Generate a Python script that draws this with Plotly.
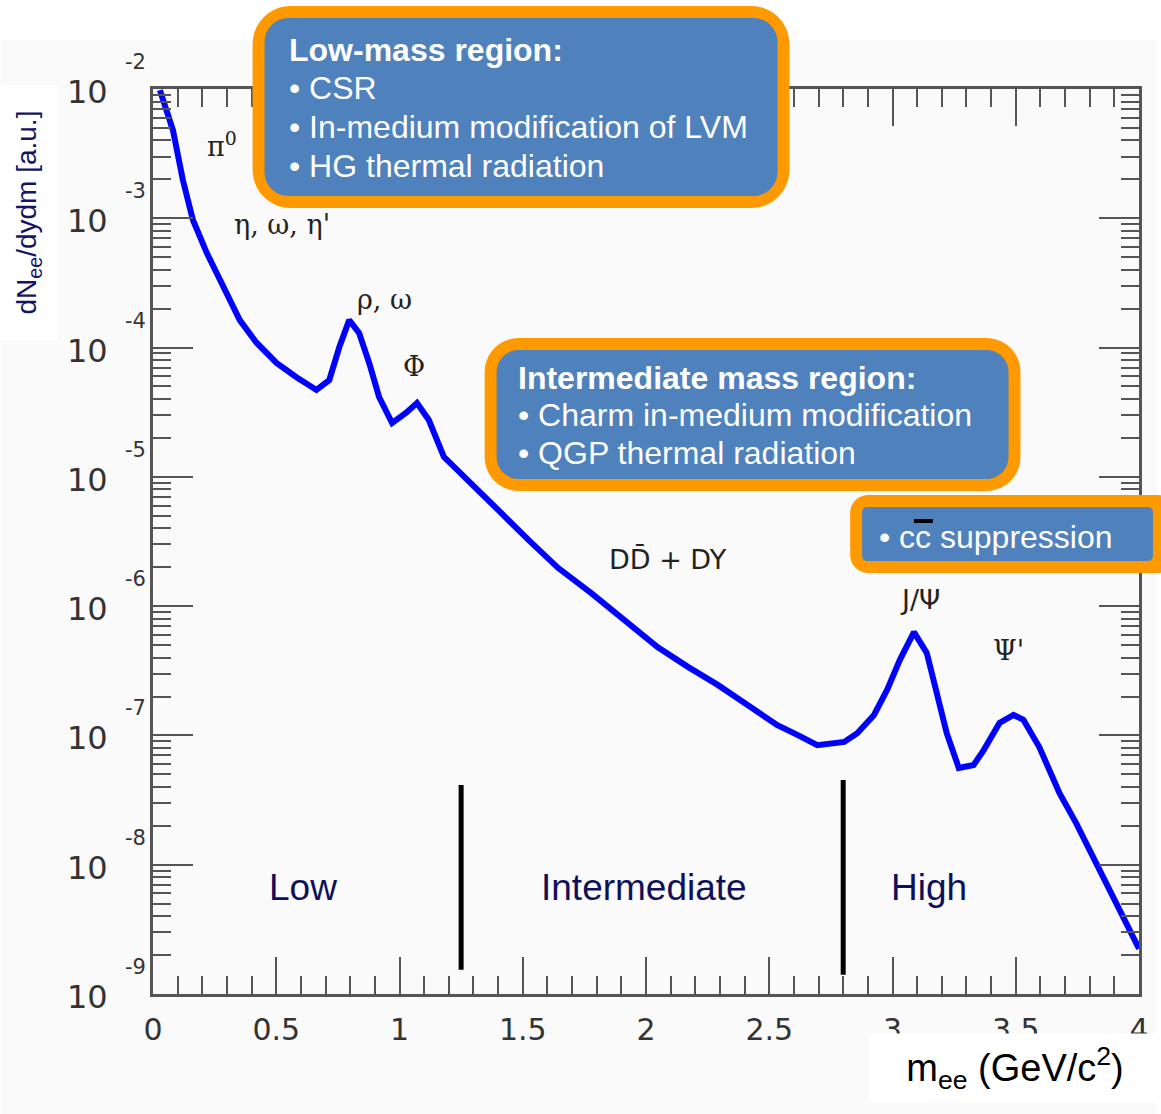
import plotly.graph_objects as go
import math

# ---------------- data ----------------
mass = [0.028, 0.081, 0.121, 0.162, 0.218, 0.283, 0.352, 0.420, 0.501, 0.582,
        0.663, 0.715, 0.756, 0.796, 0.836, 0.877, 0.917, 0.970, 1.026, 1.071,
        1.119, 1.180, 1.281, 1.402, 1.523, 1.644, 1.778, 1.915, 2.048, 2.170,
        2.291, 2.412, 2.533, 2.614, 2.695, 2.804, 2.857, 2.925, 2.978, 3.030,
        3.087, 3.139, 3.180, 3.220, 3.269, 3.329, 3.370, 3.434, 3.491, 3.531,
        3.596, 3.677, 3.745, 3.826, 3.895, 3.960, 4.000]
yield_ = [9.8e-3, 4.8e-3, 1.98e-3, 9.7e-4, 5.4e-4, 2.94e-4, 1.63e-4, 1.09e-4, 7.6e-5, 5.9e-5,
          4.7e-5, 5.6e-5, 1.01e-4, 1.63e-4, 1.30e-4, 7.6e-5, 4.15e-5, 2.61e-5, 3.12e-5, 3.73e-5,
          2.75e-5, 1.43e-5, 9.1e-6, 5.5e-6, 3.25e-6, 1.97e-6, 1.26e-6, 7.8e-7, 4.8e-7, 3.39e-7,
          2.46e-7, 1.72e-7, 1.20e-7, 1.01e-7, 8.4e-8, 8.9e-8, 1.04e-7, 1.44e-7, 2.25e-7, 3.84e-7,
          6.3e-7, 4.35e-7, 2.13e-7, 1.04e-7, 5.6e-8, 5.9e-8, 7.7e-8, 1.25e-7, 1.44e-7, 1.32e-7,
          8.1e-8, 3.59e-8, 2.10e-8, 1.03e-8, 5.6e-9, 3.30e-9, 2.24e-9]

region_bounds = [1.25, 2.8]
bound_top = [4.14e-8, 4.53e-8]
bound_bottom = [1.54e-9, 1.41e-9]

region_names = ["Low", "Intermediate", "High"]
region_x = [0.61, 1.99, 3.15]
region_logy = -8.18

peak_labels = ["π<sup>0</sup>", "η, ω, η'", "ρ, ω", "Φ", "DD\u0304 + DY", "J/Ψ", "Ψ'"]
peak_x = [0.28, 0.525, 0.94, 1.06, 2.09, 3.11, 3.47]
peak_logy = [-2.43, -3.05, -3.63, -4.15, -5.64, -5.95, -6.34]
peak_fonts = ["serif", "serif", "serif", "serif", "sans", "sans", "serif"]

y_exponents = [-2, -3, -4, -5, -6, -7, -8, -9]
x_ticks = [0, 0.5, 1, 1.5, 2, 2.5, 3, 3.5, 4]
x_ticktext = ["0", "0.5", "1", "1.5", "2", "2.5", "3", "3.5", "4"]

# ---------------- layout geometry ----------------
W, H = 1161, 1114
L, R, T, B = 153, 1143, 89, 994


def px(x):
    return (x - L) / (R - L)


def py(y):
    return (B - y) / (B - T)


def rrect(x0, y0, x1, y1, r, n=10):
    pts = []
    corners = [(x1 - r, y0 + r, -90, 0), (x1 - r, y1 - r, 0, 90),
               (x0 + r, y1 - r, 90, 180), (x0 + r, y0 + r, 180, 270)]
    for cx, cy, a0, a1 in corners:
        for i in range(n + 1):
            a = math.radians(a0 + (a1 - a0) * i / n)
            pts.append((cx + r * math.cos(a), cy + r * math.sin(a)))
    path = "M " + " L ".join(f"{px(a):.5f},{py(b):.5f}" for a, b in pts) + " Z"
    return path


fig = go.Figure()

fig.add_trace(go.Scatter(x=mass, y=yield_, mode="lines",
                         line=dict(color="#0000ff", width=6), showlegend=False,
                         hoverinfo="skip"))

for xb, yt, yb in zip(region_bounds, bound_top, bound_bottom):
    fig.add_trace(go.Scatter(x=[xb, xb], y=[yt, yb], mode="lines",
                             line=dict(color="black", width=5), showlegend=False,
                             hoverinfo="skip"))

shapes = []
# scanned background tint
shapes.append(dict(type="rect", xref="paper", yref="paper", x0=px(0), x1=px(W),
                   y0=py(40), y1=py(H), fillcolor="#fafafa", line=dict(width=0),
                   layer="below"))

ORANGE = "#ff9900"
BLUE = "#4f81bd"
boxes = [
    ((253, 6, 792, 208, 38), (265, 18, 780, 196, 24)),
    ((486, 338, 1024, 491, 34), (498, 350, 1012, 479, 22)),
    ((853, 495, 1180, 573, 18), (865, 507, 1157, 561, 5)),
]
for outer, inner in boxes:
    shapes.append(dict(type="path", xref="paper", yref="paper", path=rrect(*outer),
                       fillcolor=ORANGE, line=dict(width=0), layer="above"))
    shapes.append(dict(type="path", xref="paper", yref="paper", path=rrect(*inner),
                       fillcolor=BLUE, line=dict(width=0), layer="above"))

ann = []
BOXFONT = "Liberation Sans, Arial, sans-serif"
box_lines = [
    (288, [(50, "<b>Low-mass region:</b>"), (88, "• CSR"),
           (127, "• In-medium modification of LVM"), (166, "• HG thermal radiation")]),
    (517, [(378, "<b>Intermediate mass region:</b>"), (415, "• Charm in-medium modification"),
           (453, "• QGP thermal radiation")]),
    (880, [(537, "• cc suppression")]),
]
for x0, lines in box_lines:
    for yy, txt in lines:
        ann.append(dict(text=txt, xref="paper", yref="paper", x=px(x0), y=py(yy),
                        xanchor="left", yanchor="middle", showarrow=False,
                        font=dict(family=BOXFONT, size=32, color="white")))

# overbar of c-bar
shapes.append(dict(type="line", xref="paper", yref="paper", x0=px(917), x1=px(936),
                   y0=py(521), y1=py(521), line=dict(color="black", width=4),
                   layer="above"))

# region labels
for name, xr in zip(region_names, region_x):
    ann.append(dict(text=name, x=xr, y=region_logy, xref="x", yref="y",
                    showarrow=False, font=dict(family=BOXFONT, size=37, color="#10105a")))

# peak labels
for txt, xx, yy, ff in zip(peak_labels, peak_x, peak_logy, peak_fonts):
    fam = "DejaVu Serif, serif" if ff == "serif" else "DejaVu Sans, sans-serif"
    ann.append(dict(text=txt, x=xx, y=yy, xref="x", yref="y", showarrow=False,
                    font=dict(family=fam, size=27, color="#222222")))

# y tick labels (10 with exponent)
for e in y_exponents:
    ann.append(dict(text="10", x=px(87), y=e, xref="paper", yref="y", showarrow=False,
                    xanchor="center", yanchor="middle", yshift=-3,
                    font=dict(family="DejaVu Sans, sans-serif", size=32, color="#333333")))
    ann.append(dict(text=f"{e}", x=px(148), y=e, xref="paper", yref="y", showarrow=False,
                    xanchor="right", yanchor="middle", yshift=27,
                    font=dict(family="DejaVu Sans, sans-serif", size=21, color="#333333")))

# y axis title
ann.append(dict(text="dN<sub>ee</sub>/dydm [a.u.]", x=px(28), y=py(213), xref="paper",
                yref="paper", showarrow=False, textangle=-90, bgcolor="white",
                width=252, height=56, xanchor="center", yanchor="middle",
                font=dict(family=BOXFONT, size=28, color="#141464")))

# x axis title
ann.append(dict(text="m<sub>ee</sub> (GeV/c<sup>2</sup>)", x=px(1018), y=py(1068),
                xref="paper", yref="paper", showarrow=False, bgcolor="white",
                width=288, height=66, xanchor="center", yanchor="middle",
                font=dict(family=BOXFONT, size=38, color="black")))

fig.update_layout(
    width=W, height=H,
    margin=dict(l=L, r=W - R, t=T, b=H - B, pad=0),
    paper_bgcolor="white", plot_bgcolor="rgba(0,0,0,0)",
    shapes=shapes, annotations=ann, showlegend=False,
    xaxis=dict(range=[0, 4], tickvals=x_ticks, ticktext=x_ticktext,
               ticks="inside", ticklen=37, tickwidth=2, tickcolor="#555555",
               showline=True, linecolor="#555555", linewidth=3, mirror="ticks",
               showgrid=False, zeroline=False, ticklabelstandoff=7,
               tickfont=dict(family="DejaVu Sans, sans-serif", size=30, color="#333333"),
               minor=dict(ticks="inside", ticklen=18, tickwidth=2, tickcolor="#555555",
                          dtick=0.1, showgrid=False)),
    yaxis=dict(type="log", range=[-9, -2], dtick=1, showticklabels=False,
               ticks="inside", ticklen=40, tickwidth=2, tickcolor="#555555",
               showline=True, linecolor="#555555", linewidth=3, mirror="ticks",
               showgrid=False, zeroline=False,
               minor=dict(ticks="inside", ticklen=18, tickwidth=2, tickcolor="#555555",
                          dtick="D1", showgrid=False)),
)

fig.write_html("out.html")
